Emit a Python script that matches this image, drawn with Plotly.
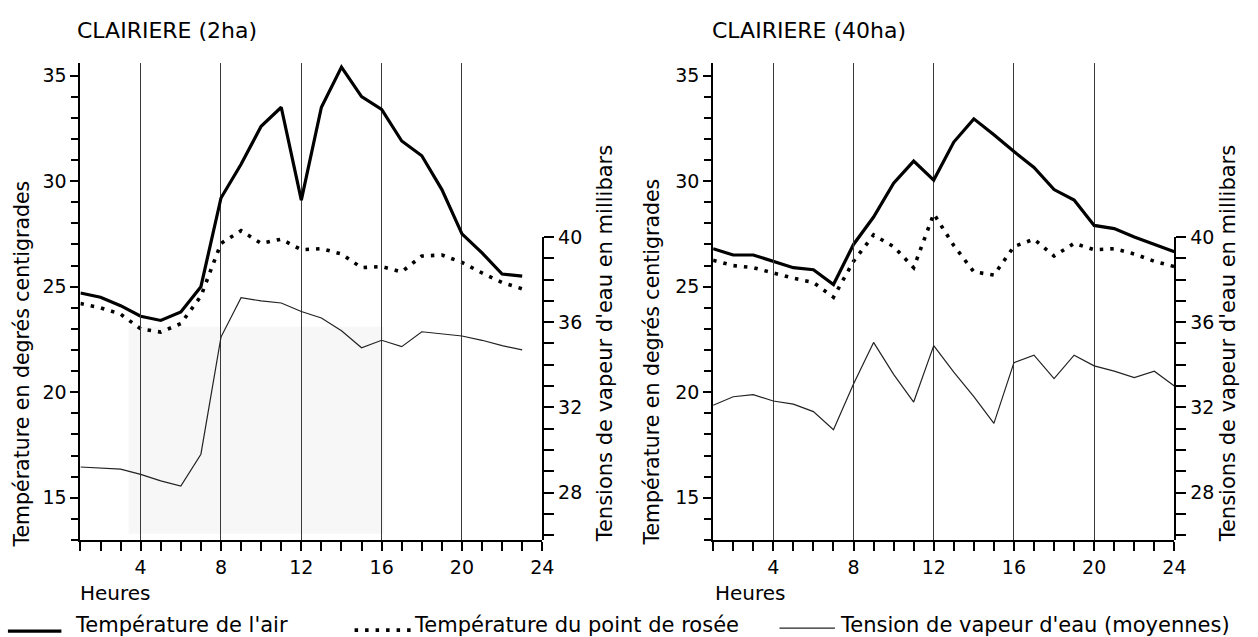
import plotly.graph_objects as go

# ---------------- data ----------------
hours_2ha = list(range(1, 24))
hours_40ha = list(range(1, 25))

air_2ha = [24.7, 24.5, 24.1, 23.6, 23.4, 23.8, 25.0, 29.2, 30.8, 32.6, 33.5, 29.1,
           33.5, 35.4, 34.0, 33.4, 31.9, 31.2, 29.6, 27.5, 26.6, 25.6, 25.5]
dew_2ha = [24.2, 24.0, 23.7, 23.0, 22.85, 23.25, 24.55, 27.05, 27.65, 27.05, 27.25, 26.75,
           26.8, 26.55, 25.9, 25.95, 25.7, 26.45, 26.5, 26.15, 25.65, 25.2, 24.9]
vap_2ha = [29.2, 29.15, 29.1, 28.85, 28.55, 28.3, 29.8, 35.3, 37.15, 37.0, 36.9, 36.5,
           36.2, 35.6, 34.8, 35.15, 34.85, 35.55, 35.45, 35.35, 35.15, 34.9, 34.7]

air_40ha = [26.8, 26.5, 26.5, 26.2, 25.9, 25.8, 25.1, 27.0, 28.3, 29.9, 30.95, 30.05,
            31.85, 32.95, 32.2, 31.4, 30.65, 29.6, 29.1, 27.9, 27.75, 27.35, 27.0, 26.65]
dew_40ha = [26.25, 26.0, 25.9, 25.65, 25.4, 25.2, 24.5, 26.2, 27.45, 26.9, 25.9, 28.45,
            26.95, 25.7, 25.55, 26.9, 27.25, 26.45, 27.05, 26.75, 26.8, 26.55, 26.2, 25.95]
vap_40ha = [32.1, 32.5, 32.6, 32.3, 32.15, 31.8, 30.95, 33.1, 35.05, 33.55, 32.25, 34.9,
            33.65, 32.5, 31.25, 34.1, 34.45, 33.35, 34.45, 33.95, 33.7, 33.4, 33.7, 33.0]

hour_ticks = [4, 8, 12, 16, 20, 24]
temp_ticks = [15, 20, 25, 30, 35]
vap_ticks = [28, 32, 36, 40]

titles = ["CLAIRIERE (2ha)", "CLAIRIERE (40ha)"]
ytitle_left = "Température en degrés centigrades"
ytitle_right = "Tensions de vapeur d'eau en millibars"
xtitle = "Heures"
legend_names = ["Température de l'air", "Température du point de rosée",
                "Tension de vapeur d'eau (moyennes)"]

# ---------------- layout helpers ----------------
W, H = 1258, 637
FONT = "DejaVu Sans"
def px(x):
    return x / W
def py(y):
    return (H - y) / H

bottom = py(538.3)
top = py(52.8)
top_vap = py(230)

AIR = dict(color="black", width=3.2)
DEW = dict(color="black", width=3.6, dash="3.5px,7px")
VAP = dict(color="#222222", width=1.2)

fig = go.Figure()
fig.add_trace(go.Scatter(x=hours_2ha, y=vap_2ha, mode="lines", line=VAP, xaxis="x", yaxis="y2",
                         showlegend=False))
fig.add_trace(go.Scatter(x=hours_2ha, y=air_2ha, mode="lines", line=AIR, xaxis="x", yaxis="y",
                         showlegend=False))
fig.add_trace(go.Scatter(x=hours_2ha, y=dew_2ha, mode="lines", line=DEW, xaxis="x", yaxis="y",
                         showlegend=False))
fig.add_trace(go.Scatter(x=hours_40ha, y=vap_40ha, mode="lines", line=VAP, xaxis="x2", yaxis="y4",
                         showlegend=False))
fig.add_trace(go.Scatter(x=hours_40ha, y=air_40ha, mode="lines", line=AIR, xaxis="x2", yaxis="y3",
                         showlegend=False))
fig.add_trace(go.Scatter(x=hours_40ha, y=dew_40ha, mode="lines", line=DEW, xaxis="x2", yaxis="y3",
                         showlegend=False))

TICKFONT = dict(size=19, family=FONT, color="black")

def xax(x0, x1, anchor):
    return dict(domain=[px(x0), px(x1)], anchor=anchor, range=[1, 24],
                tickmode="array", tickvals=hour_ticks,
                showgrid=True, gridcolor="#3a3a3a", gridwidth=1,
                showline=True, linewidth=2, linecolor="black", zeroline=False,
                ticks="outside", ticklen=9, tickwidth=1.5, tickcolor="black",
                minor=dict(dtick=1, tick0=0, ticks="outside", ticklen=9, tickwidth=1.5,
                           tickcolor="black", showgrid=False),
                tickfont=TICKFONT, fixedrange=True)

def ytemp(anchor):
    return dict(domain=[bottom, top], anchor=anchor, range=[13, 35.6],
                tickmode="array", tickvals=temp_ticks, showgrid=False,
                showline=True, linewidth=2, linecolor="black", zeroline=False,
                ticks="outside", ticklen=8, tickwidth=1.5, tickcolor="black",
                minor=dict(dtick=1, tick0=0, ticks="outside", ticklen=7, tickwidth=1.5,
                           tickcolor="black", showgrid=False),
                tickfont=TICKFONT, fixedrange=True)

def yvap(anchor):
    return dict(domain=[bottom, top_vap], anchor=anchor, side="right", range=[25.77, 40],
                tickmode="array", tickvals=vap_ticks, showgrid=False,
                showline=True, linewidth=2, linecolor="black", zeroline=False,
                ticks="outside", ticklen=10, tickwidth=1.5, tickcolor="black",
                minor=dict(dtick=1, tick0=0, ticks="outside", ticklen=10, tickwidth=1.5,
                           tickcolor="black", showgrid=False),
                tickfont=TICKFONT, fixedrange=True)

annotations = []
def ann(text, x, y, xanchor="center", size=21, angle=0):
    annotations.append(dict(text=text, x=px(x), y=py(y), xref="paper", yref="paper",
                            xanchor=xanchor, yanchor="middle", showarrow=False,
                            textangle=angle, font=dict(size=size, family=FONT, color="black")))

ann(titles[0], 169, 20, size=22)
ann(titles[1], 817, 20, size=22)
ann(ytitle_left, 22, 359, angle=-90, size=20.5)
ann(ytitle_right, 611, 339, angle=-90)
ann(ytitle_left, 658, 357, angle=-90, size=20.5)
ann(ytitle_right, 1240, 339, angle=-90)
ann(xtitle, 79, 592, xanchor="left", size=20)
ann(xtitle, 720, 592, xanchor="left", size=20)
ann(legend_names[0], 74, 625, xanchor="left")
ann(legend_names[1], 416, 625, xanchor="left")
ann(legend_names[2], 846, 625, xanchor="left")

shapes = [
    # faint scan shading in the left panel
    dict(type="rect", xref="x", yref="y", x0=3.4, x1=16.1, y0=13.3, y1=23.1,
         fillcolor="#f7f7f7", line=dict(width=0), layer="below"),
    # legend keys
    dict(type="line", xref="paper", yref="paper", x0=px(8), x1=px(62), y0=py(631), y1=py(631),
         line=dict(color="black", width=3.2)),
    dict(type="line", xref="paper", yref="paper", x0=px(358), x1=px(416), y0=py(630), y1=py(630),
         line=dict(color="black", width=3.6, dash="3.5px,7px")),
    dict(type="line", xref="paper", yref="paper", x0=px(787), x1=px(843), y0=py(628), y1=py(628),
         line=dict(color="#222222", width=1.2)),
]

fig.update_layout(
    width=W, height=H, autosize=False,
    margin=dict(l=0, r=0, t=0, b=0),
    paper_bgcolor="white", plot_bgcolor="rgba(0,0,0,0)",
    font=dict(family=FONT, color="black"),
    showlegend=False,
    xaxis=xax(81.2, 547.5, "y"),
    yaxis=ytemp("x"),
    yaxis2=yvap("x"),
    xaxis2=xax(720, 1185.7, "y3"),
    yaxis3=ytemp("x2"),
    yaxis4=yvap("x2"),
    annotations=annotations,
    shapes=shapes,
)

fig.write_html("out.html", config={"displayModeBar": False})
